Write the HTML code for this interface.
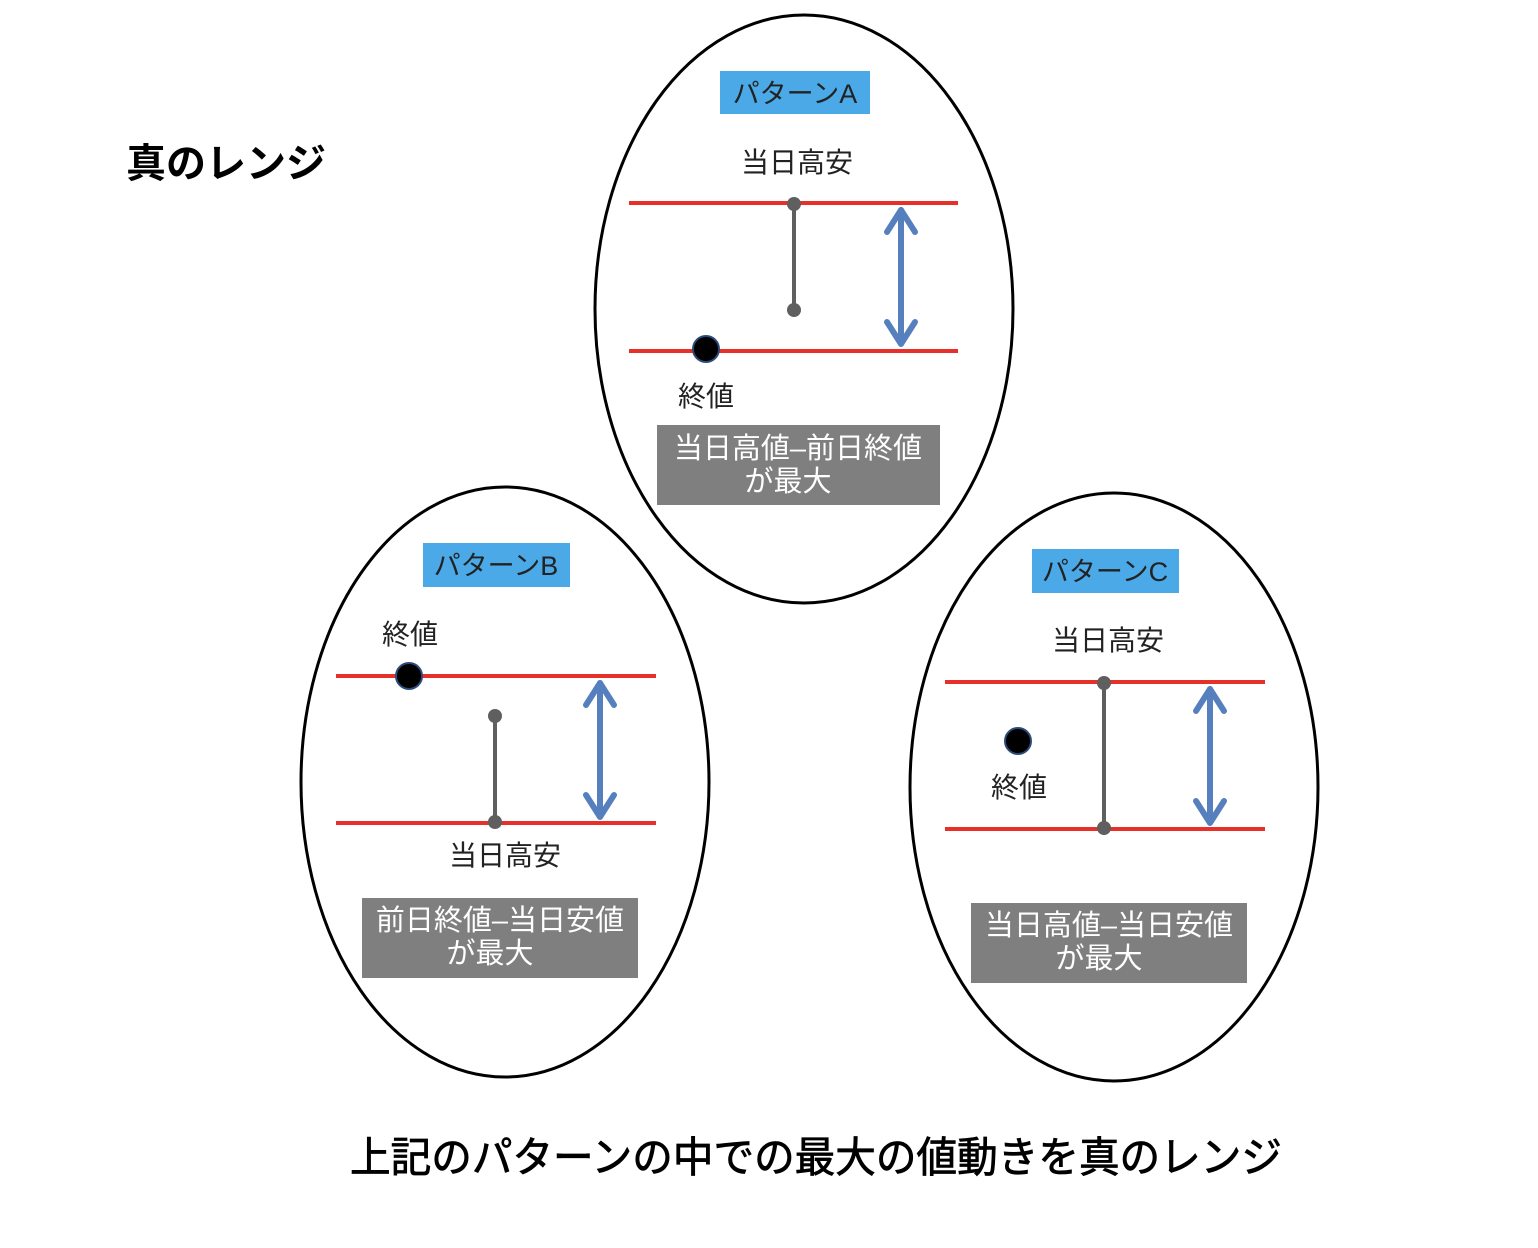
<!DOCTYPE html>
<html><head><meta charset="utf-8"><style>
html,body{margin:0;padding:0;background:#fff;width:1538px;height:1248px;overflow:hidden}
svg text{font-family:"Liberation Sans","Noto Sans CJK JP",sans-serif}
</style></head><body>
<svg width="1538" height="1248" viewBox="0 0 1538 1248" xmlns="http://www.w3.org/2000/svg">
<defs>
<g id="arrowhead"></g>
</defs>
<text x="126" y="177" font-size="40" font-weight="bold" fill="#000">真のレンジ</text>
<text x="816" y="1172" font-size="42" text-anchor="middle" fill="#000" stroke="#000" stroke-width="0.8" textLength="932" lengthAdjust="spacingAndGlyphs">上記のパターンの中での最大の値動きを真のレンジ</text>

<!-- Pattern A -->
<ellipse cx="804" cy="309" rx="209" ry="294" fill="#fff" stroke="#000" stroke-width="3"/>
<rect x="720" y="71" width="150" height="43" fill="#4aa9e6"/>
<text x="795" y="103" font-size="27" text-anchor="middle" fill="#222">パターンA</text>
<text x="797" y="172" font-size="28" text-anchor="middle" fill="#222">当日高安</text>
<line x1="629" y1="203" x2="958" y2="203" stroke="#e8302a" stroke-width="4"/>
<line x1="629" y1="351" x2="958" y2="351" stroke="#e8302a" stroke-width="4"/>
<line x1="794" y1="203" x2="794" y2="310" stroke="#5f5f5f" stroke-width="4"/>
<circle cx="794" cy="204" r="7" fill="#5f5f5f"/><circle cx="794" cy="310" r="7" fill="#5f5f5f"/>
<g stroke="#5680bd" stroke-width="6" fill="none" stroke-linecap="round" stroke-linejoin="round">
<line x1="901" y1="210" x2="901" y2="343"/>
<polyline points="887,232 901,210 915,232"/><polyline points="887,322 901,344 915,322"/>
</g>
<circle cx="706" cy="349" r="13" fill="#000" stroke="#2c4a7a" stroke-width="2"/>
<text x="706" y="406" font-size="28" text-anchor="middle" fill="#222">終値</text>
<rect x="657" y="425" width="283" height="80" fill="#7f7f7f"/>
<text x="798" y="458" font-size="29" text-anchor="middle" fill="#fff">当日高値‒前日終値</text>
<text x="788" y="491" font-size="29" text-anchor="middle" fill="#fff">が最大</text>

<!-- Pattern B -->
<ellipse cx="505" cy="782" rx="204" ry="295" fill="#fff" stroke="#000" stroke-width="3"/>
<rect x="423" y="543" width="147" height="44" fill="#4aa9e6"/>
<text x="496" y="575" font-size="27" text-anchor="middle" fill="#222">パターンB</text>
<text x="410" y="644" font-size="28" text-anchor="middle" fill="#222">終値</text>
<line x1="336" y1="676" x2="656" y2="676" stroke="#e8302a" stroke-width="4"/>
<line x1="336" y1="823" x2="656" y2="823" stroke="#e8302a" stroke-width="4"/>
<line x1="495" y1="715" x2="495" y2="823" stroke="#5f5f5f" stroke-width="4"/>
<circle cx="495" cy="716" r="7" fill="#5f5f5f"/><circle cx="495" cy="822" r="7" fill="#5f5f5f"/>
<g stroke="#5680bd" stroke-width="6" fill="none" stroke-linecap="round" stroke-linejoin="round">
<line x1="600" y1="683" x2="600" y2="816"/>
<polyline points="586,705 600,683 614,705"/><polyline points="586,795 600,817 614,795"/>
</g>
<circle cx="409" cy="676" r="13" fill="#000" stroke="#2c4a7a" stroke-width="2"/>
<text x="505" y="865" font-size="28" text-anchor="middle" fill="#222">当日高安</text>
<rect x="362" y="898" width="276" height="80" fill="#7f7f7f"/>
<text x="500" y="930" font-size="29" text-anchor="middle" fill="#fff">前日終値‒当日安値</text>
<text x="490" y="963" font-size="29" text-anchor="middle" fill="#fff">が最大</text>

<!-- Pattern C -->
<ellipse cx="1114" cy="787" rx="204" ry="294" fill="#fff" stroke="#000" stroke-width="3"/>
<rect x="1032" y="549" width="147" height="44" fill="#4aa9e6"/>
<text x="1105" y="581" font-size="27" text-anchor="middle" fill="#222">パターンC</text>
<text x="1108" y="650" font-size="28" text-anchor="middle" fill="#222">当日高安</text>
<line x1="945" y1="682" x2="1265" y2="682" stroke="#e8302a" stroke-width="4"/>
<line x1="945" y1="829" x2="1265" y2="829" stroke="#e8302a" stroke-width="4"/>
<line x1="1104" y1="682" x2="1104" y2="829" stroke="#5f5f5f" stroke-width="4"/>
<circle cx="1104" cy="683" r="7" fill="#5f5f5f"/><circle cx="1104" cy="828" r="7" fill="#5f5f5f"/>
<g stroke="#5680bd" stroke-width="6" fill="none" stroke-linecap="round" stroke-linejoin="round">
<line x1="1210" y1="689" x2="1210" y2="822"/>
<polyline points="1196,711 1210,689 1224,711"/><polyline points="1196,801 1210,823 1224,801"/>
</g>
<circle cx="1018" cy="741" r="13" fill="#000" stroke="#2c4a7a" stroke-width="2"/>
<text x="1019" y="797" font-size="28" text-anchor="middle" fill="#222">終値</text>
<rect x="971" y="903" width="276" height="80" fill="#7f7f7f"/>
<text x="1109" y="935" font-size="29" text-anchor="middle" fill="#fff">当日高値‒当日安値</text>
<text x="1099" y="968" font-size="29" text-anchor="middle" fill="#fff">が最大</text>
</svg>
</body></html>
